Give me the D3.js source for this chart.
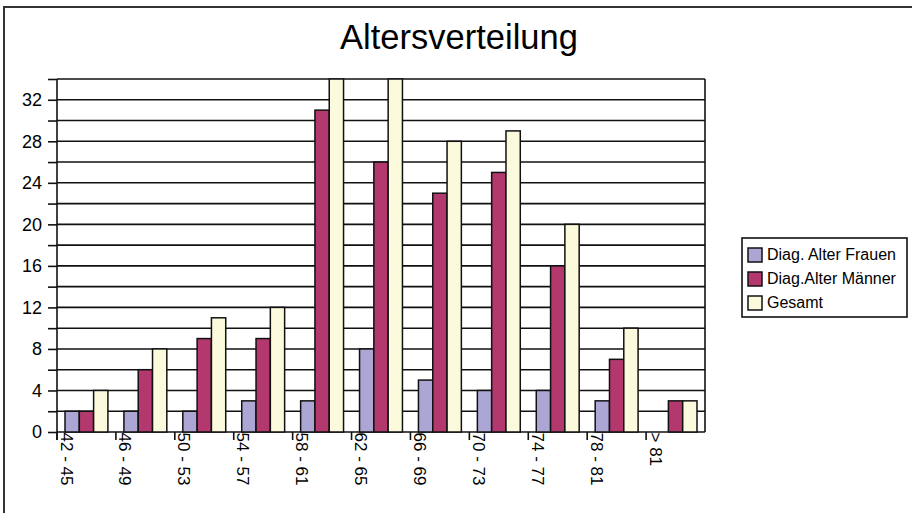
<!DOCTYPE html>
<html>
<head>
<meta charset="utf-8">
<script src="https://cdn.jsdelivr.net/npm/d3@7"></script>
<style>
  html, body { margin: 0; padding: 0; background: #fff; }
  svg { display: block; font-family: "Liberation Sans", Arial, sans-serif; }
</style>
</head>
<body>
<svg id="chart" width="912" height="513"></svg>
<script>
// Age groups and counts per group
const categories = ["42 - 45", "46 - 49", "50 - 53", "54 - 57", "58 - 61", "62 - 65",
                    "66 - 69", "70 - 73", "74 - 77", "78 - 81", "> 81"];
const seriesNames = ["Diag. Alter Frauen", "Diag.Alter Männer", "Gesamt"];
const frauen = [2, 2, 2, 3, 3, 8, 5, 4, 4, 3, 0];
const maenner = [2, 6, 9, 9, 31, 26, 23, 25, 16, 7, 3];
const gesamt = [4, 8, 11, 12, 34, 34, 28, 29, 20, 10, 3];
const yTickLabels = [0, 4, 8, 12, 16, 20, 24, 28, 32];
const colors = ["#aba6d4", "#b2386e", "#fcfadc"];

const seriesValues = [frauen, maenner, gesamt];
const rows = categories.map((c, i) => ({
  cat: c,
  values: seriesNames.map((s, j) => ({ series: s, value: seriesValues[j][i], color: colors[j] }))
}));

const svg = d3.select("#chart");

// outer frame
svg.append("rect")
  .attr("x", 4).attr("y", 7).attr("width", 930).attr("height", 530)
  .attr("fill", "none").attr("stroke", "#333").attr("stroke-width", 2);

// title
svg.append("text")
  .attr("x", 459).attr("y", 49)
  .attr("text-anchor", "middle")
  .attr("font-size", "34.5px")
  .attr("fill", "#000")
  .text("Altersverteilung");

const plot = { left: 57, right: 705, top: 79, bottom: 432 };

const x0 = d3.scaleBand().domain(categories).range([plot.left, plot.right]).padding(0);
const step = x0.step();
const x1 = d3.scaleBand().domain(seriesNames).range([8, step - 8]).padding(0);
const y = d3.scaleLinear().domain([0, 34]).range([plot.bottom, plot.top]);

// horizontal gridlines every 2 units
const gridVals = d3.range(0, 35, 2);
svg.append("g").selectAll("line").data(gridVals).join("line")
  .attr("x1", plot.left).attr("x2", plot.right)
  .attr("y1", d => y(d)).attr("y2", d => y(d))
  .attr("stroke", "#111").attr("stroke-width", 1.6);

// right border of plot area
svg.append("line")
  .attr("x1", plot.right).attr("x2", plot.right)
  .attr("y1", plot.top).attr("y2", plot.bottom)
  .attr("stroke", "#111").attr("stroke-width", 1.6);

// bars
const groups = svg.append("g").selectAll("g").data(rows).join("g")
  .attr("transform", d => `translate(${x0(d.cat)},0)`);
groups.selectAll("rect").data(d => d.values.filter(v => v.value > 0)).join("rect")
  .attr("x", d => x1(d.series))
  .attr("width", x1.bandwidth())
  .attr("y", d => y(d.value))
  .attr("height", d => y(0) - y(d.value))
  .attr("fill", d => d.color)
  .attr("stroke", "#111").attr("stroke-width", 1.5);

// y axis: ticks every 2, labels every 4
const yAxis = d3.axisLeft(y)
  .tickValues(gridVals)
  .tickSize(9)
  .tickPadding(6)
  .tickFormat(d => yTickLabels.includes(d) ? d : "");
const gy = svg.append("g").attr("transform", `translate(${plot.left},0)`).call(yAxis);
gy.select(".domain").remove();
gy.selectAll(".tick line").attr("stroke", "#111").attr("stroke-width", 1.6);
gy.selectAll(".tick text").attr("font-size", "18px").attr("fill", "#000")
  .attr("font-family", "Liberation Sans, Arial, sans-serif");
svg.append("line")
  .attr("x1", plot.left).attr("x2", plot.left)
  .attr("y1", plot.top).attr("y2", plot.bottom + 8)
  .attr("stroke", "#111").attr("stroke-width", 1.6);

// x axis: ticks at group boundaries, rotated labels
const gx = svg.append("g");
gx.selectAll("line").data(categories).join("line")
  .attr("x1", d => x0(d)).attr("x2", d => x0(d))
  .attr("y1", plot.bottom).attr("y2", plot.bottom + 8)
  .attr("stroke", "#111").attr("stroke-width", 1.6);
gx.selectAll("text").data(categories).join("text")
  .attr("transform", d => `translate(${x0(d) + 3.5},${plot.bottom + 0.5}) rotate(90)`)
  .attr("font-size", "17px")
  .attr("fill", "#000")
  .text(d => d);

// legend
const legend = svg.append("g");
legend.append("rect")
  .attr("x", 742).attr("y", 238).attr("width", 165).attr("height", 79)
  .attr("fill", "#fff").attr("stroke", "#111").attr("stroke-width", 1.6);
const items = legend.selectAll("g.item").data(seriesNames).join("g")
  .attr("class", "item")
  .attr("transform", (d, i) => `translate(748,${248 + i * 24})`);
items.append("rect")
  .attr("width", 14).attr("height", 14)
  .attr("fill", (d, i) => colors[i])
  .attr("stroke", "#111").attr("stroke-width", 1.5);
items.append("text")
  .attr("x", 19).attr("y", 11.5)
  .attr("font-size", "16px")
  .attr("fill", "#000")
  .text(d => d);
</script>
</body>
</html>
